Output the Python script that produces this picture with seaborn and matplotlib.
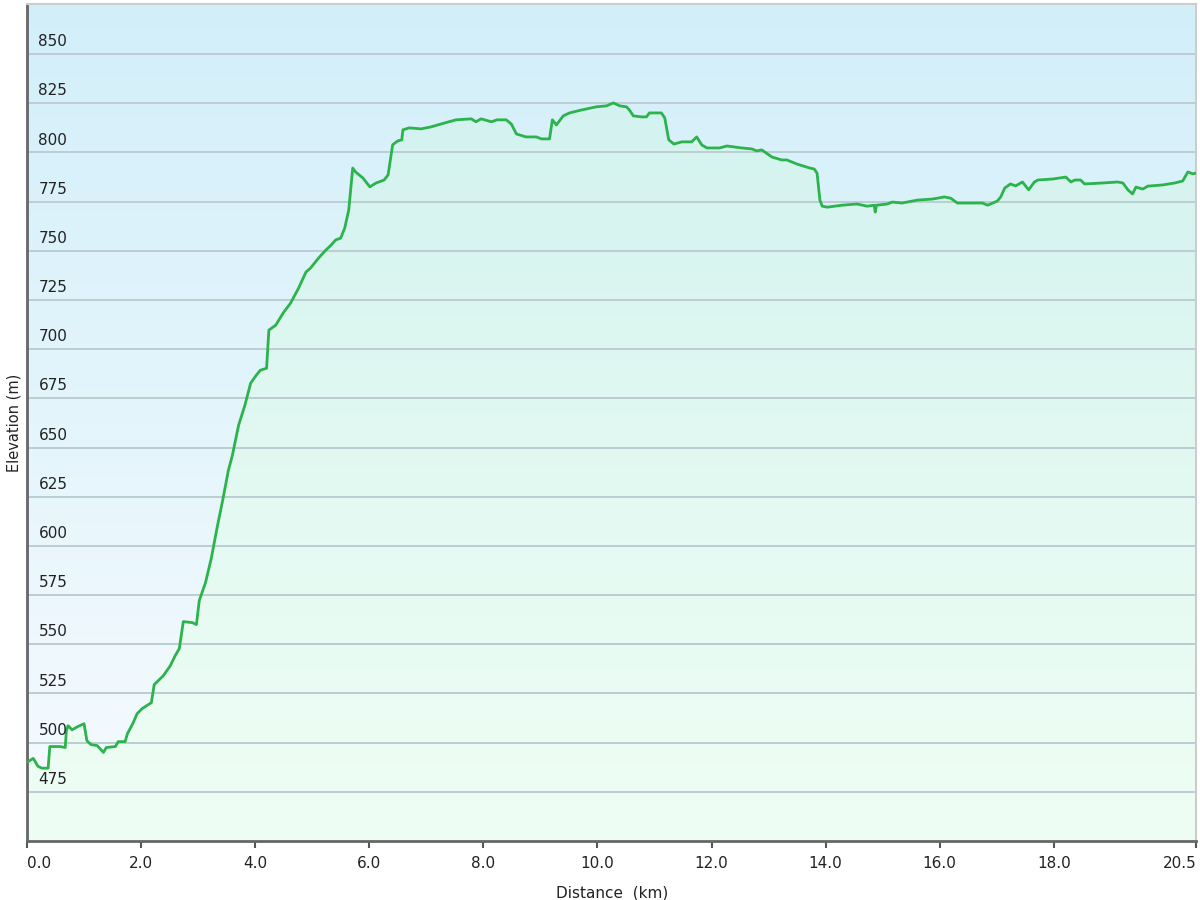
import numpy as np
import pandas as pd
import matplotlib
matplotlib.use('Agg')
import matplotlib.pyplot as plt
from matplotlib.colors import LinearSegmentedColormap
import seaborn as sns

# elevation profile
distance_km = [0.0, 0.11, 0.19, 0.26, 0.37, 0.40, 0.58, 0.67, 0.69, 0.72, 0.79, 0.88, 1.00, 1.05,
               1.12, 1.23, 1.34, 1.39, 1.55, 1.60, 1.72, 1.76, 1.86, 1.93, 2.02, 2.18, 2.23, 2.39,
               2.51, 2.60, 2.67, 2.74, 2.90, 2.97, 3.02, 3.13, 3.23, 3.34, 3.43, 3.53, 3.60, 3.71,
               3.82, 3.92, 4.02, 4.09, 4.20, 4.24, 4.36, 4.50, 4.62, 4.76, 4.89, 4.97, 5.11, 5.24,
               5.33, 5.41, 5.50, 5.57, 5.64, 5.71, 5.76, 5.89, 6.01, 6.12, 6.26, 6.33, 6.41, 6.50,
               6.57, 6.59, 6.70, 6.91, 7.08, 7.26, 7.52, 7.79, 7.87, 7.96, 8.14, 8.24, 8.40, 8.49,
               8.58, 8.75, 8.93, 9.02, 9.16, 9.21, 9.28, 9.40, 9.51, 9.72, 9.98, 10.16, 10.28, 10.39,
               10.51, 10.56, 10.63, 10.77, 10.86, 10.91, 11.12, 11.18, 11.25, 11.34, 11.48, 11.65,
               11.74, 11.83, 11.92, 12.14, 12.27, 12.53, 12.71, 12.79, 12.88, 13.06, 13.23, 13.32,
               13.50, 13.72, 13.80, 13.85, 13.90, 13.94, 14.03, 14.29, 14.55, 14.73, 14.85, 14.87,
               14.89, 15.08, 15.17, 15.34, 15.61, 15.87, 16.08, 16.19, 16.31, 16.48, 16.75, 16.84,
               17.01, 17.07, 17.14, 17.24, 17.33, 17.45, 17.56, 17.66, 17.72, 17.98, 18.21, 18.30,
               18.37, 18.47, 18.54, 18.86, 19.12, 19.21, 19.30, 19.38, 19.44, 19.56, 19.65, 19.91,
               20.12, 20.26, 20.35, 20.44, 20.50]
elevation_m = [490, 492, 488, 487, 487, 498, 498, 497.5, 506, 508.6, 506.5, 508, 509.6, 501,
               499, 498.5, 495, 497.5, 498, 500.5, 500.5, 504.5, 510, 514.7, 517.3, 520.3, 529.5, 534,
               539, 544.3, 547.8, 561.5, 561, 560, 572.2, 581.4, 593.6, 610.4, 623.1, 638.4, 646, 661.4,
               671.5, 682.7, 686.8, 689.3, 690.3, 709.7, 712.2, 718.8, 723.4, 731, 739.2, 741.2, 746.3, 750.4,
               752.9, 755.5, 756.5, 761.6, 770.7, 792.1, 790.1, 787, 782.5, 784.5, 786, 788.6, 803.9, 805.9,
               806.4, 811.5, 812.5, 812, 813, 814.5, 816.6, 817.1, 815.6, 817.1, 815.6, 816.6, 816.6, 814.5,
               809.4, 807.9, 807.9, 806.9, 806.9, 816.6, 814, 818.6, 820.1, 821.6, 823.2, 823.7, 825.2, 823.7,
               823.2, 821.6, 818.6, 818.1, 818.1, 820.1, 820.1, 817.6, 806.4, 804.3, 805.4, 805.4,
               807.9, 803.8, 802.3, 802.3, 803.3, 802.3, 801.8, 800.8, 801.3, 797.7, 796.2, 796.2,
               794.1, 792.1, 791.6, 789.5, 775.8, 772.7, 772.2, 773.2, 773.8, 772.7, 773.2, 769.7,
               773.2, 773.8, 774.8, 774.3, 775.8, 776.3, 777.4, 776.8, 774.3, 774.3, 774.3, 773.2,
               775.3, 777.4, 781.9, 784, 783, 785, 781, 785, 786, 786.5, 787.5, 785,
               786, 786, 784, 784.5, 785, 784.5, 781, 778.9, 782.4, 781.4, 782.9, 783.5,
               784.5, 785.5, 790.1, 789.1, 789.6]

y_ticks = [475, 500, 525, 550, 575, 600, 625, 650, 675, 700, 725, 750, 775, 800, 825, 850]
x_ticks = [0, 2, 4, 6, 8, 10, 12, 14, 16, 18, 20.5]
x_tick_labels = ['0.0', '2.0', '4.0', '6.0', '8.0', '10.0', '12.0', '14.0', '16.0', '18.0', '20.5']

data = pd.DataFrame({'Distance': distance_km, 'Elevation': elevation_m})

sns.set_style('white')
plt.rcParams['font.family'] = ['DejaVu Sans']

fig = plt.figure(figsize=(12, 9), dpi=100)
ax = fig.add_axes([0.0225, 0.0656, 0.9745, 0.93])
x_min, x_max = 0, 20.5
y_min, y_max = 450, 875.5
ax.set_xlim(x_min, x_max)
ax.set_ylim(y_min, y_max)

# background gradient: light blue at top fading to white
bg_cmap = LinearSegmentedColormap.from_list('bg', ['#f7fbff', '#d2eff9'])
grad = np.linspace(0, 1, 256).reshape(-1, 1)
ax.imshow(grad, cmap=bg_cmap, aspect='auto', origin='lower',
          extent=[x_min, x_max, y_min, y_max], zorder=0)

# fill under the profile with a mint gradient clipped to the area
area = ax.fill_between(data['Distance'], data['Elevation'], y_min, color='none', zorder=1)
fill_cmap = LinearSegmentedColormap.from_list('fill', ['#effef4', '#e2f9f2', '#d3f2ef'])
img = ax.imshow(grad, cmap=fill_cmap, aspect='auto', origin='lower',
                extent=[x_min, x_max, y_min, 830], zorder=1)
path = area.get_paths()[0]
img.set_clip_path(path, transform=ax.transData)

# grid lines
for y in y_ticks:
    ax.axhline(y, color='#bccdd2', lw=1.4, zorder=2)

sns.lineplot(x='Distance', y='Elevation', data=data, color='#2bb34c', lw=2.0, ax=ax, zorder=3)

# y tick labels sit inside the plot, above each grid line
ax.set_yticks([])
for y in y_ticks:
    ax.text(0.2, y + 2.5, str(y), fontsize=11, color='#222222', ha='left', va='bottom', zorder=4)

ax.set_xticks(x_ticks)
ax.set_xticklabels(x_tick_labels, fontsize=11, color='#222222')
labels = ax.get_xticklabels()
labels[0].set_ha('left')
labels[-1].set_ha('right')
ax.tick_params(axis='x', direction='out', length=5, width=1.5, color='#555555', pad=6, bottom=True)

ax.set_xlabel('Distance  (km)', fontsize=11, color='#222222', labelpad=10)
ax.set_ylabel('Elevation (m)', fontsize=10.5, color='#222222', labelpad=4)

for side in ['left', 'bottom']:
    ax.spines[side].set_color('#666666')
    ax.spines[side].set_linewidth(2)
for side in ['top', 'right']:
    ax.spines[side].set_color('#cccccc')
    ax.spines[side].set_linewidth(1.5)

fig.savefig('out.png', dpi=100)
